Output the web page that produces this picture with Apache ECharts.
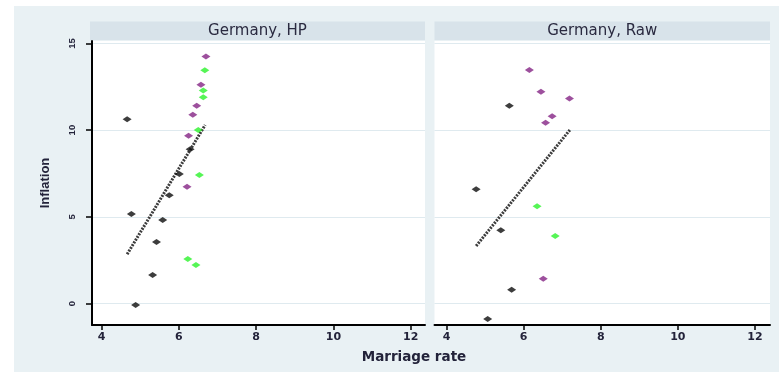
<!DOCTYPE html>
<html>
<head>
<meta charset="utf-8">
<script src="https://cdn.jsdelivr.net/npm/echarts@6/dist/echarts.min.js"></script>
<style>
  html, body { margin: 0; padding: 0; background: #ffffff; }
  #chart { width: 779px; height: 372px; }
</style>
</head>
<body>
<div id="chart"></div>
<script>
// Axis ticks shared by both panels
const xTicks = [4, 6, 8, 10, 12];
const yTicks = [0, 5, 10, 15];
const panelTitles = ['Germany, HP', 'Germany, Raw'];

// Germany, HP: [marriage rate, inflation]
const hpBlack = [[4.66, 10.63], [6.29, 8.90], [6.01, 7.47], [5.75, 6.24], [4.77, 5.16],
                 [5.58, 4.82], [5.42, 3.55], [5.32, 1.64], [4.88, -0.09]];
const hpPurple = [[6.70, 14.24], [6.57, 12.61], [6.46, 11.41], [6.36, 10.88], [6.25, 9.68], [6.21, 6.74]];
const hpGreen = [[6.67, 13.45], [6.63, 12.28], [6.63, 11.90], [6.50, 10.01], [6.53, 7.41],
                 [6.23, 2.57], [6.44, 2.22]];
const hpFit = [[4.66, 2.84], [6.68, 10.30]];

// Germany, Raw: [marriage rate, inflation]
const rawBlack = [[5.63, 11.40], [4.77, 6.59], [5.41, 4.22], [5.69, 0.80], [5.07, -0.89]];
const rawPurple = [[6.15, 13.47], [6.45, 12.22], [7.19, 11.82], [6.74, 10.80], [6.57, 10.43], [6.51, 1.43]];
const rawGreen = [[6.35, 5.61], [6.82, 3.89]];
const rawFit = [[4.77, 3.32], [7.20, 10.01]];

const BG = '#e9f1f4';
const STRIP = '#d8e3ea';
const GRIDLINE = '#dfeaef';
const TXT = '#23233a';
const PURPLE = '#842485';
const GREEN = '#2cf22c';
const BLACK = '#0c0c0c';

const chart = echarts.init(document.getElementById('chart'), null, { renderer: 'canvas' });

const grids = [
  { left: 92, top: 41, width: 333, height: 284 },
  { left: 434.5, top: 41, width: 335.5, height: 284 }
];
const xRanges = [[3.75, 12.37], [3.69, 12.39]];
const yRange = [-1.24, 15.14];

function xAxisFor(i) {
  return {
    type: 'value', gridIndex: i, min: xRanges[i][0], max: xRanges[i][1],
    axisLine: { show: true, onZero: false, lineStyle: { color: '#000', width: 2 } },
    axisTick: { show: true, customValues: xTicks, length: 5, lineStyle: { color: '#000', width: 1.5 } },
    axisLabel: { customValues: xTicks, margin: 7, fontFamily: 'DejaVu Sans', fontWeight: 'bold',
                 fontSize: 11, color: TXT },
    splitLine: { show: false }
  };
}

function yAxisFor(i) {
  const main = i === 0;
  return {
    type: 'value', gridIndex: i, min: yRange[0], max: yRange[1],
    name: main ? 'Inflation' : '', nameLocation: 'middle', nameRotate: 90, nameGap: 40,
    nameTextStyle: { fontFamily: 'Liberation Sans', fontWeight: 'bold', fontSize: 13, color: TXT },
    axisLine: { show: main, onZero: false, lineStyle: { color: '#000', width: 2 } },
    axisTick: { show: main, customValues: yTicks, length: 6, lineStyle: { color: '#000', width: 1.5 } },
    axisLabel: { show: main, customValues: yTicks, rotate: 90, margin: 15,
                 fontFamily: 'Liberation Sans', fontWeight: 'bold', fontSize: 9.5, color: TXT },
    splitLine: { show: true, lineStyle: { color: GRIDLINE, width: 1 } }
  };
}

function scatter(data, color, i) {
  return {
    type: 'scatter', xAxisIndex: i, yAxisIndex: i, data: data,
    symbol: 'diamond', symbolSize: [9, 6],
    itemStyle: { color: color }, z: 3
  };
}

function fit(data, i) {
  return {
    type: 'line', xAxisIndex: i, yAxisIndex: i, data: data,
    symbol: 'none', silent: true,
    lineStyle: { color: '#3c3c3c', width: 3, type: [2, 1.2] }, z: 2
  };
}

const stripEls = grids.map((g, i) => ({
  type: 'group',
  children: [
    { type: 'rect', shape: { x: (i === 0 ? 90 : g.left), y: 21.5,
        width: (i === 0 ? g.left + g.width - 90 : g.width), height: 18.5 },
      style: { fill: STRIP } },
    { type: 'text', x: (i === 0 ? (90 + g.left + g.width) / 2 : g.left + g.width / 2), y: 31,
      style: { text: panelTitles[i], fill: '#2a2a40', font: '15px "DejaVu Sans"',
               textAlign: 'center', textVerticalAlign: 'middle' } }
  ]
}));

chart.setOption({
  animation: false,
  backgroundColor: 'transparent',
  graphic: [
    { type: 'rect', z: -10, shape: { x: 14, y: 6, width: 765, height: 366 }, style: { fill: BG } },
    ...stripEls,
    { type: 'text', x: 414, y: 357,
      style: { text: 'Marriage rate', fill: TXT, font: 'bold 13.5px "DejaVu Sans"',
               textAlign: 'center', textVerticalAlign: 'middle' } }
  ],
  grid: grids.map(g => Object.assign({ show: true, backgroundColor: '#ffffff', borderWidth: 0,
                                       containLabel: false }, g)),
  xAxis: [xAxisFor(0), xAxisFor(1)],
  yAxis: [yAxisFor(0), yAxisFor(1)],
  series: [
    fit(hpFit, 0),
    scatter(hpBlack, BLACK, 0),
    scatter(hpPurple, PURPLE, 0),
    scatter(hpGreen, GREEN, 0),
    fit(rawFit, 1),
    scatter(rawBlack, BLACK, 1),
    scatter(rawPurple, PURPLE, 1),
    scatter(rawGreen, GREEN, 1)
  ]
});
</script>
</body>
</html>
